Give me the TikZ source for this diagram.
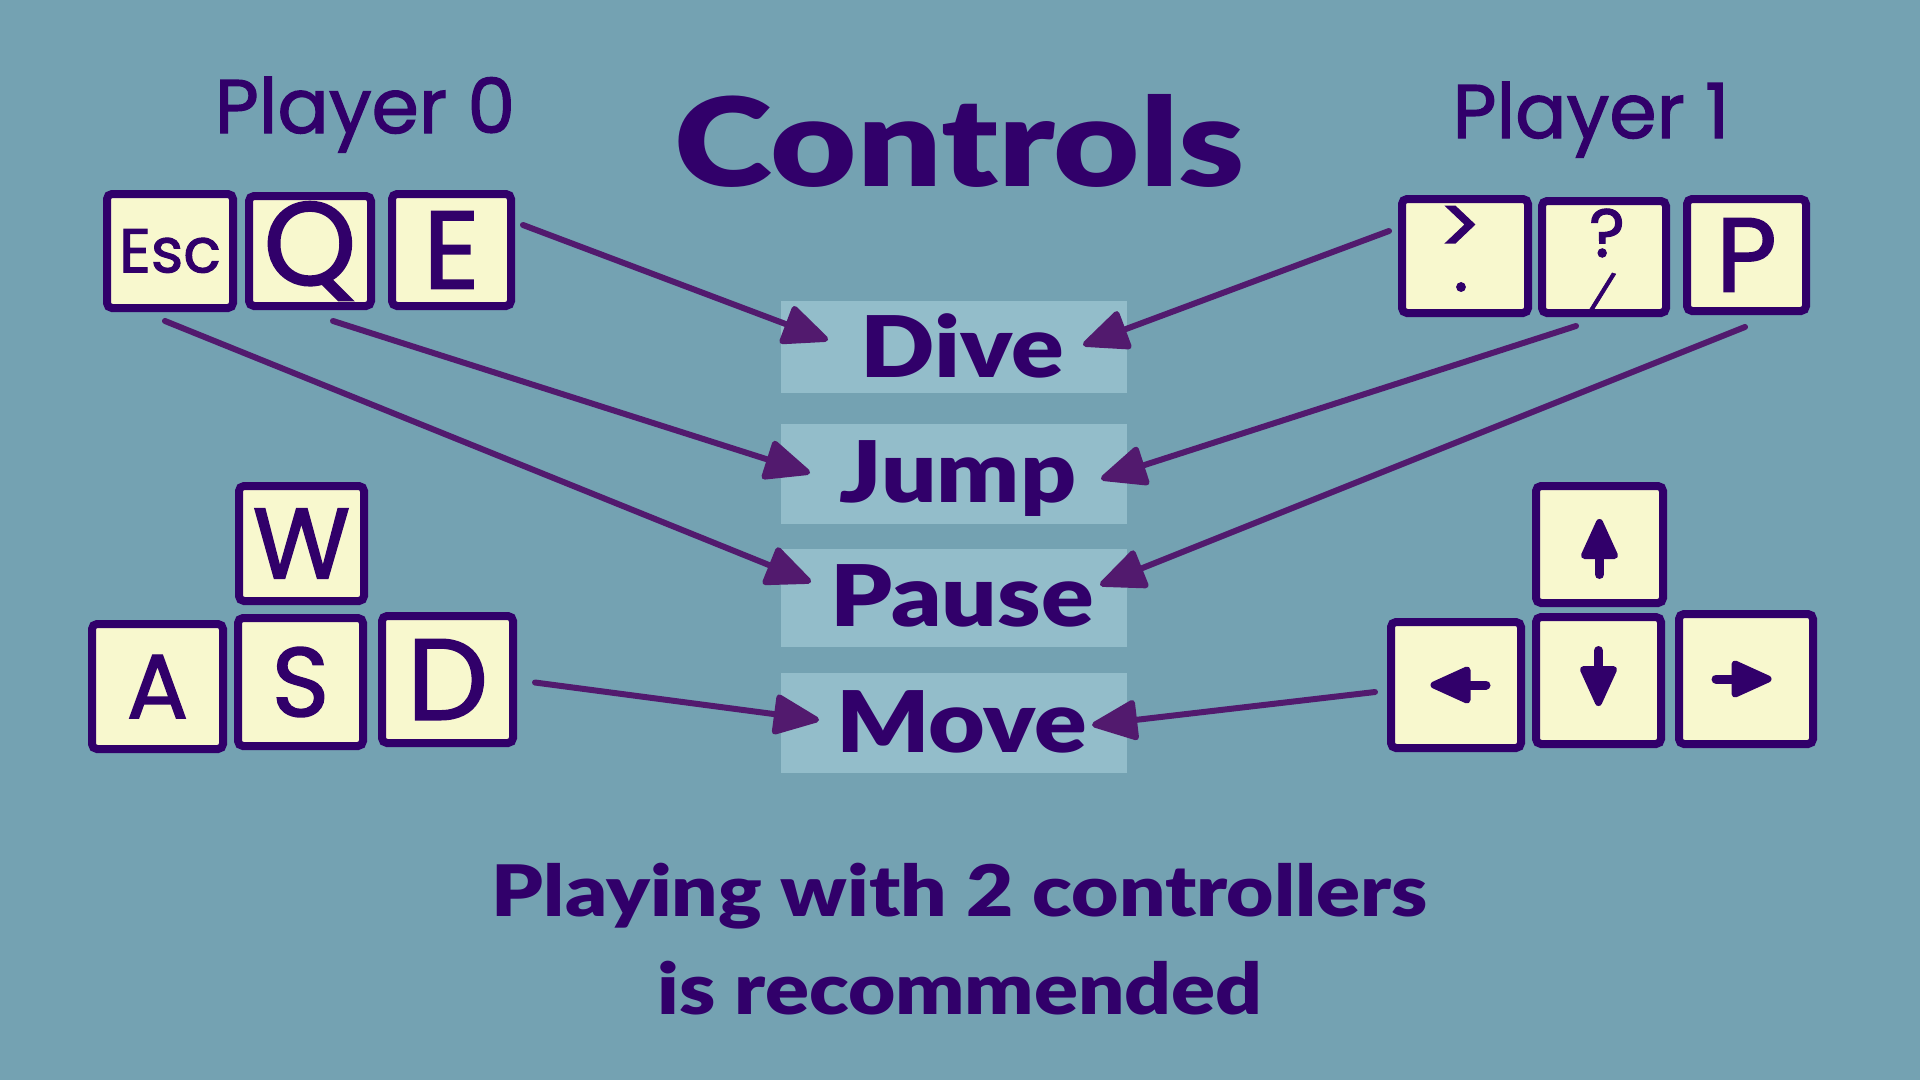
\documentclass[tikz,border=0pt]{standalone}
\usepackage{fontspec}
\setmainfont{Lato}
\newfontfamily\heavy{Lato Black}[FakeStretch=1.15]
\newfontfamily\heavyw{Lato Black}[FakeStretch=1.21]
\newfontfamily\hand{Poppins}[FakeBold=1.6]
\usetikzlibrary{arrows.meta,calc}
\definecolor{bg}{HTML}{74A2B2}
\definecolor{boxfill}{HTML}{93BDCA}
\definecolor{keyfill}{HTML}{F8F8CE}
\definecolor{ink}{HTML}{31006A}
\definecolor{arrowc}{HTML}{521A6E}
\tikzset{
  keycap/.style={draw=ink, fill=keyfill, line width=8pt, rounded corners=5pt, inner sep=0pt, outer sep=0pt, text=ink},
  hw/.style={font=\hand\fontsize{#1}{#1}\selectfont},
  act/.style={fill=boxfill, inner sep=0pt, outer sep=0pt, minimum width=346pt},
  lbl/.style={text=ink, font=\heavy\fontsize{85}{90}\selectfont, anchor=base},
  conn/.style={draw=arrowc, line width=6pt, line cap=round, -{Triangle[length=50pt,width=42pt,round]}},
  arrowicon/.pic={
    \filldraw[ink, line width=7pt, line join=round] (0,-22) -- (15,11) -- (-15,11) -- cycle;
    \draw[ink, line width=9pt, line cap=round] (0,11) -- (0,30);
  }
}
\begin{document}
\begin{tikzpicture}[x=1pt,y=-1pt]
\fill[bg] (0,0) rectangle (1920,1080);
\useasboundingbox (0,0) rectangle (1920,1080);

% title
\node[anchor=base, text=ink, font=\heavyw\fontsize{123}{130}\selectfont] (title) at (960,186) {Controls};
\node[anchor=base, text=ink, hw=76] (p0) at (365,133) {Player 0};
\node[anchor=base, text=ink, hw=76] (p1) at (1591,138) {Player 1};

% player 0 keys
\node[keycap, minimum width=126pt, minimum height=114pt, hw=62] (esc) at (170,251) {Esc};
\node[keycap, minimum width=122pt, minimum height=110pt, hw=118] (q) at (310,251) {Q};
\node[keycap, minimum width=119pt, minimum height=112pt, hw=110] (e) at (451.5,250) {E};
\node[keycap, minimum width=125pt, minimum height=115pt, hw=100] (w) at (301.5,543.5) {W};
\node[keycap, minimum width=131pt, minimum height=125pt, hw=91] (a) at (157.5,686.5) {A};
\node[keycap, minimum width=125pt, minimum height=128pt, hw=98] (s) at (300.5,682) {S};
\node[keycap, minimum width=131pt, minimum height=127pt, hw=115] (d) at (447.5,679.5) {D};

% player 1 keys
\node[keycap, minimum width=126pt, minimum height=114pt] (k1) at (1465,256) {};
\node[keycap, minimum width=124pt, minimum height=112pt] (k2) at (1604,257) {};
\node[keycap, minimum width=119pt, minimum height=112pt, hw=105] (p) at (1746.5,255) {P};
\node[text=ink, hw=80, inner sep=0pt] (gt) at (1460,230) {>};
\node[text=ink, hw=70, inner sep=0pt] (dot) at (1461,287) {.};
\node[text=ink, hw=68, inner sep=0pt] (qm) at (1607,233) {?};
\node[text=ink, hw=40, inner sep=0pt, rotate=-18] (sl) at (1602,293) {/};

\node[keycap, minimum width=127pt, minimum height=117pt] (up) at (1599.5,544.5) {};
\node[keycap, minimum width=130pt, minimum height=126pt] (left) at (1456,685) {};
\node[keycap, minimum width=125pt, minimum height=127pt] (down) at (1598.5,680.5) {};
\node[keycap, minimum width=134pt, minimum height=130pt] (right) at (1746,679) {};
\pic at (up.center) {arrowicon};
\pic[rotate=180] at (down.center) {arrowicon};
\pic[rotate=90] at (left.center) {arrowicon};
\pic[rotate=-90] at (right.center) {arrowicon};

% action boxes
\node[act, minimum height=92pt] (dive) at (954,347) {};
\node[act, minimum height=100pt] (jump) at (954,474) {};
\node[act, minimum height=98pt] (pause) at (954,598) {};
\node[act, minimum height=100pt] (move) at (954,723) {};
\node[lbl] (divel) at (962,377) {Dive};
\node[lbl] (jumpl) at (958,502) {Jump};
\node[lbl] (pausel) at (962,626) {Pause};
\node[lbl] (movel) at (962,752) {Move};

% connectors
\draw[conn] ($(e.east)+(12,-25)$) -- ($(dive.west)+(47,-7)$);
\draw[conn] ($(q.south)+(23,15)$) -- ($(jump.west)+(29,-1)$);
\draw[conn] ($(esc.south)+(-5,13)$) -- ($(pause.west)+(30,-16)$);
\draw[conn] ($(d.east)+(22,3)$) -- ($(move.west)+(38,-3)$);
\draw[conn] ($(k1.west)+(-13,-25)$) -- ($(dive.east)+(-44,-2)$);
\draw[conn] ($(k2.south)+(-28,13)$) -- ($(jump.east)+(-26,5)$);
\draw[conn] ($(p.south)+(-1.5,16)$) -- ($(pause.east)+(-27,-13)$);
\draw[conn] ($(left.west)+(-16,7)$) -- ($(move.east)+(-35,2)$);

% footer
\node[anchor=base, text=ink, font=\heavy\fontsize{71}{80}\selectfont] (foot1) at (960,916) {Playing with 2 controllers};
\node[anchor=base, text=ink, font=\heavy\fontsize{71}{80}\selectfont] (foot2) at (960,1014) {is recommended};
\end{tikzpicture}
\end{document}
